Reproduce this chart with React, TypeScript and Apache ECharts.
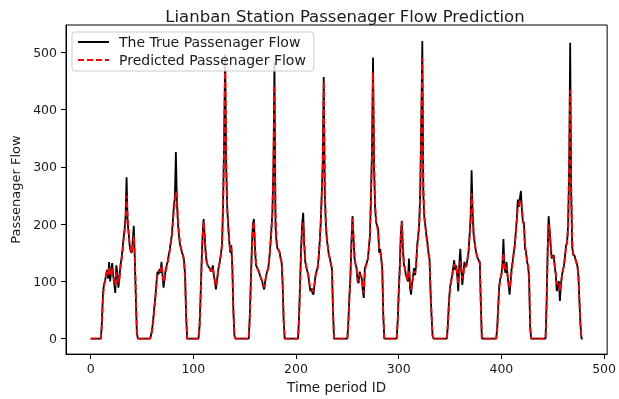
import React, { useEffect, useRef } from "react";
import * as echarts from "echarts";

const xTicks = [0, 100, 200, 300, 400, 500];
const yTicks = [0, 100, 200, 300, 400, 500];
const seriesNames = ["The True Passenager Flow", "Predicted Passenager Flow"];

const trueDay0 = [0,0,0,0,0,0,0,0,0,0,0, 30,80,95,100,112,120,105,134,100,118, 132,110,95,80,128,115,89,105,128,140, 155,175,190,214,282,203,185,163,152,150, 170,197,140,70,10,0,0];
const predDay0 = [0,0,0,0,0,0,0,0,0,0,0, 25,70,92,100,110,118,112,125,110,115, 125,115,100,92,115,112,98,105,122,135, 150,170,185,205,250,215,185,165,155,150, 162,180,145,85,15,0,0];
const trueDay1 = [0,0,0,0,0,0,0,0,0,0,0, 8,18,35,55,72,95,117,112,122,115, 134,110,89,105,120,128,135,146,155,168, 180,205,231,245,326,240,203,180,165,157, 150,146,135,110,40,0,0];
const predDay1 = [0,0,0,0,0,0,0,0,0,0,0, 6,15,30,50,70,92,112,115,118,118, 128,115,98,102,115,125,133,142,152,165, 178,198,222,240,257,245,210,185,168,158, 152,146,135,105,35,0,0];
const trueDay2 = [0,0,0,0,0,0,0,0,0,0, 20,70,130,180,209,180,150,134,128,125, 123,118,120,128,110,100,86,100,117,128, 137,150,165,237,351,497,300,230,197,170, 150,163,123,49,5,0,0,0];
const predDay2 = [0,0,0,0,0,0,0,0,0,0, 18,65,125,175,205,185,152,136,128,124, 122,118,118,124,112,102,92,100,115,126, 136,148,165,235,350,490,310,225,195,170, 152,158,125,50,5,0,0,0];
const trueDay3 = [0,0,0,0,0,0,0,0,0,0,0, 40,100,160,200,209,160,128,125,120, 117,110,105,100,92,86,100,111,118,123, 140,163,190,220,300,483,197,168,157,155, 151,140,134,94,30,0,0,0];
const predDay3 = [0,0,0,0,0,0,0,0,0,0,0, 38,95,155,195,205,165,132,125,120, 116,110,106,100,94,90,100,110,117,124, 140,160,188,220,300,443,230,175,160,155, 150,142,132,95,30,0,0,0];
const trueDay4 = [0,0,0,0,0,0,0,0,0,0,0, 40,100,160,200,220,165,134,125,118, 111,95,83,88,80,77,95,111,118,123, 140,168,200,250,306,457,260,200,175,160, 146,140,130,123,50,0,0,0];
const predDay4 = [0,0,0,0,0,0,0,0,0,0,0, 38,95,150,190,203,170,138,126,118, 110,98,88,88,84,82,95,108,117,124, 140,165,198,248,300,450,270,205,175,160, 148,140,132,120,50,0,0,0];
const trueDay5 = [0,0,0,0,0,0,0,0,0,0,0, 30,75,110,170,214,175,140,130,123, 100,97,117,110,106,85,71,123,128,133, 140,160,180,250,330,491,300,230,203,198, 192,150,157,140,123,40,0,0];
const predDay5 = [0,0,0,0,0,0,0,0,0,0,0, 28,68,108,165,210,180,145,130,122, 105,100,112,110,104,90,80,115,126,132, 140,158,180,248,328,466,310,235,205,195, 185,155,152,140,118,40,0,0];
const trueDay6 = [0,0,0,0,0,0,0,0,0,0,0, 30,80,123,180,206,160,130,123,111, 105,100,140,89,77,95,110,123,111,130, 163,180,200,260,380,520,250,210,197,180, 168,150,140,83,40,5,0,0];
const predDay6 = [0,0,0,0,0,0,0,0,0,0,0, 28,75,120,175,205,165,135,124,112, 106,102,120,98,85,95,108,118,115,128, 158,178,198,258,375,490,270,215,195,178, 162,148,138,85,40,5,0,0];
const trueDay7 = [0,0,0,0,0,0,0,0,0,0,0,0, 30,66,90,100,110,123,137,120, 128,110,83,130,157,120,94,115,134,125, 128,140,151,180,209,294,220,180,168,155, 146,140,137,134,60,0,0,0];
const predDay7 = [0,0,0,0,0,0,0,0,0,0,0,0, 28,62,88,98,108,120,130,122, 124,112,95,115,135,120,104,112,128,125, 128,138,150,178,205,254,225,185,168,155, 146,140,136,130,55,0,0,0];
const trueDay8 = [0,0,0,0,0,0,0,0,0,0,0,0, 20,60,94,105,111,130,174,123, 115,134,110,94,77,100,123,135,150,163, 185,209,243,230,245,258,225,203,203,157, 151,134,128,106,20,0,0,0];
const predDay8 = [0,0,0,0,0,0,0,0,0,0,0,0, 18,56,90,104,112,125,150,130, 118,125,112,100,88,100,118,132,148,162, 182,205,230,232,243,240,228,208,195,165, 152,138,128,105,22,0,0,0];
const trueDay9 = [0,0,0,0,0,0,0,0,0,0,0,0, 60,150,214,190,163,140,143,146, 125,111,83,95,100,66,95,111,120,128, 145,163,168,200,300,517,250,160,146,146, 140,134,128,110,66,25,0,0];
const predDay9 = [0,0,0,0,0,0,0,0,0,0,0,0, 55,140,200,188,165,145,142,142, 128,115,95,95,98,82,95,110,120,128, 143,160,168,198,295,434,270,170,148,142, 138,133,127,110,65,25,0,0];

const trueFlow = [...trueDay0, ...trueDay1, ...trueDay2, ...trueDay3, ...trueDay4, ...trueDay5, ...trueDay6, ...trueDay7, ...trueDay8, ...trueDay9];
const predFlow = [...predDay0, ...predDay1, ...predDay2, ...predDay3, ...predDay4, ...predDay5, ...predDay6, ...predDay7, ...predDay8, ...predDay9];

export default function App() {
  const ref = useRef<HTMLDivElement>(null);
  useEffect(() => {
    if (!ref.current) return;
    const chart = echarts.init(ref.current, null, { renderer: "svg" });
    const font = "DejaVu Sans";
    const textColor = "#1a1a1a";
    chart.setOption({
      animation: false,
      title: {
        text: "Lianban Station Passenager Flow Prediction",
        left: 340,
        top: 3,
        textAlign: "center",
        textStyle: { fontFamily: font, fontSize: 16.5, fontWeight: "normal", color: textColor },
      },
      legend: {
        orient: "vertical",
        left: 72,
        top: 32,
        itemWidth: 31,
        itemHeight: 10,
        itemGap: 4,
        padding: [3, 8, 4, 5],
        borderColor: "#cccccc",
        borderWidth: 1,
        borderRadius: 3,
        backgroundColor: "rgba(255,255,255,0.8)",
        itemStyle: { opacity: 0 },
        textStyle: { fontFamily: font, fontSize: 14, color: textColor, padding: [0, 0, 0, 5] },
        data: seriesNames,
      },
      grid: {
        left: 66,
        right: 6,
        top: 25,
        bottom: 38,
        show: true,
        borderColor: "#000",
        borderWidth: 1,
        backgroundColor: "transparent",
      },
      xAxis: {
        type: "value",
        min: -24,
        max: 503,
        name: "Time period ID",
        nameLocation: "middle",
        nameGap: 22,
        nameTextStyle: { fontFamily: font, fontSize: 13.5, color: textColor },
        axisLine: { show: true, onZero: false, lineStyle: { color: "#000", width: 1 } },
        axisTick: { show: true, length: 5, customValues: xTicks, lineStyle: { color: "#000" } },
        axisLabel: { customValues: xTicks, margin: 8, fontFamily: font, fontSize: 12.5, color: textColor },
        splitLine: { show: false },
      },
      yAxis: {
        type: "value",
        min: -27,
        max: 548,
        name: "Passenager Flow",
        nameLocation: "middle",
        nameGap: 36,
        nameTextStyle: { fontFamily: font, fontSize: 13, color: textColor },
        axisLine: { show: true, onZero: false, lineStyle: { color: "#000", width: 1 } },
        axisTick: { show: true, length: 5, customValues: yTicks, lineStyle: { color: "#000" } },
        axisLabel: { customValues: yTicks, margin: 9, fontFamily: font, fontSize: 12.5, color: textColor },
        splitLine: { show: false },
      },
      series: [
        {
          name: seriesNames[0],
          type: "line",
          data: trueFlow.map((v, i) => [i, v]),
          symbol: "none",
          showSymbol: false,
          lineStyle: { color: "#000000", width: 1.8 },
          itemStyle: { color: "#000000" },
          z: 2,
        },
        {
          name: seriesNames[1],
          type: "line",
          data: predFlow.map((v, i) => [i, v]),
          symbol: "none",
          showSymbol: false,
          lineStyle: { color: "#ff0000", width: 1.8, type: [6, 3] },
          itemStyle: { color: "#ff0000" },
          z: 3,
        },
      ],
    });
    return () => chart.dispose();
  }, []);
  return <div ref={ref} style={{ position: "fixed", left: 0, top: 0, width: 619, height: 399 }} />;
}
